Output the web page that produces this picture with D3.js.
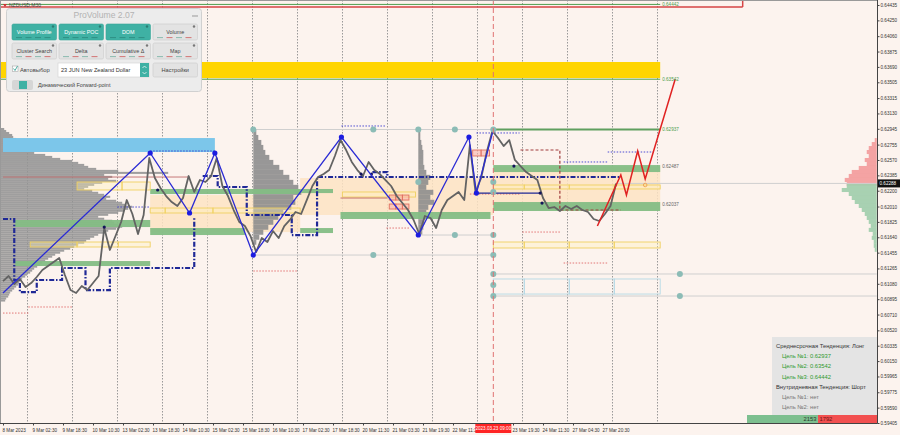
<!DOCTYPE html>
<html><head><meta charset="utf-8">
<script src="https://cdn.jsdelivr.net/npm/d3@7"></script>
<style>
html,body{margin:0;padding:0;background:#fcf3ee;}
svg{display:block;font-family:"Liberation Sans",Arial,sans-serif;}
</style></head><body>
<svg id="c" width="900" height="435"></svg>
<script>
// ---------------- DATA ----------------
const symbolLabel = "NZDUSD,M30";
const priceTicks = [0.64435,0.64250,0.64060,0.63875,0.63690,0.63505,0.63315,0.63130,0.62945,0.62755,0.62570,0.62385,0.62200,0.62010,0.61825,0.61640,0.61455,0.61265,0.61080,0.60895,0.60710,0.60520,0.60335,0.60150,0.59965,0.59775,0.59590,0.59405];
const timeLabels = ["8 Mar 2023","9 Mar 02:30","9 Mar 18:30","10 Mar 10:30","13 Mar 02:30","13 Mar 18:30","14 Mar 10:30","15 Mar 02:30","15 Mar 18:30","16 Mar 10:30","17 Mar 02:30","17 Mar 18:30","20 Mar 11:30","21 Mar 03:30","21 Mar 19:30","22 Mar 11:30","23 Mar 19:30","24 Mar 11:30","27 Mar 04:30","27 Mar 20:30"];
const timeLabelBars = [0,32,64,96,128,160,192,224,256,288,320,352,384,416,448,480,544,576,608,640];
const gridBars = [26,74,122,170,218,266,314,362,410,458,506,554,602,650,698];
const currentBar = 523;
const currentTimeLabel = "2023.03.23 09:00";
const currentPrice = 0.62288;

// close prices every 6 bars (M30)
const closeStep = 6;
const closes = [
 0.61113,0.61174,0.61077,0.61138,0.61041,0.61089,0.61162,0.61246,0.61294,0.61342,
 0.61390,0.61186,0.61005,0.60969,0.61053,0.61005,0.61089,0.61174,0.61751,0.61487,
 0.61655,0.61824,0.62088,0.61920,0.61679,0.61908,0.62594,0.62353,0.62233,0.62136,
 0.62064,0.62016,0.62112,0.62377,0.62185,0.62329,0.62305,0.62377,0.62594,0.62257,
 0.62136,0.61968,0.61824,0.61775,0.61655,0.61462,0.61631,0.61583,0.61715,0.61631,
 0.61775,0.61848,0.61944,0.61920,0.62088,0.62257,0.62365,0.62401,0.62449,0.62618,
 0.62810,0.62690,0.62546,0.62449,0.62377,0.62546,0.62449,0.62401,0.62329,0.62257,
 0.62136,0.62052,0.61968,0.61848,0.61679,0.61896,0.61872,0.61751,0.61968,0.62088,
 0.62136,0.62185,0.62088,0.62750,0.62185,0.62353,0.62666,0.62919,0.62834,0.62738,
 0.62810,0.62570,0.62497,0.62425,0.62377,0.62329,0.62112,0.61992,0.62004,0.61956,
 0.62016,0.61980,0.62016,0.61968,0.61944,0.61860,0.61836,0.61920,0.62016,0.62288];

const zigzagBars   = [0,157,199,226,267,361,443,497,505,523];
const zigzagPrices = [0.60969,0.62654,0.61932,0.62654,0.61426,0.62846,0.61667,0.62846,0.62172,0.62937];
const forecastBars   = [634,659,665,677,685,717];
const forecastPrices = [0.61775,0.62389,0.62148,0.62678,0.62341,0.63542];
const forecastMarker = [685,0.62269];

const targetLevels = [0.62937,0.63542,0.64442];
const zoneLevels = [0.62487,0.62037];
const topZoneLine = 0.64411, topZoneEndBar = 789;
const goldBand = [-3,701,0.63749,0.63556];
const skyBand = [0,226,0.62834,0.62666];

const orangeZones = [[523,701,0.62485,0.61968],[317,523,0.62353,0.61908],[157,317,0.62148,0.61703]];
const greenBands = [[523,701,0.62509,0.62425],[523,701,0.62064,0.61956],[13,157,0.61848,0.61763],[13,157,0.61354,0.61294],
 [157,317,0.62221,0.62160],[157,258,0.61751,0.61667],[360,520,0.61944,0.61860],[317,352,0.62221,0.62172],[317,352,0.61751,0.61691]];
const yellowBoxes = [
 {edges:[79,127,157],hi:0.62305,lo:0.62209},
 {edges:[29,79,123,157],hi:0.61583,lo:0.61523},
 {edges:[157,173,224,317],hi:0.61992,lo:0.61932},
 {edges:[362,440],hi:0.62185,lo:0.62124},
 {edges:[523,556,604,652,701],hi:0.62269,lo:0.62221},
 {edges:[523,556,604,652,701],hi:0.61583,lo:0.61511}];
const blueBoxes = [{edges:[523,556,604,652,701],hi:0.61138,lo:0.60957}];
const redBoxes = [
 {edges:[501,510,519],hi:0.62690,lo:0.62618},
 {edges:[412,419,426,433],hi:0.62148,lo:0.62088},
 {edges:[412,419,426,433],hi:0.62040,lo:0.61980}];

const redDotted = [[0,27,0.60728],[27,74,0.60801],[267,314,0.61234],[409,434,0.61751],[554,594,0.61703],[598,645,0.61330],[498,552,0.62160]];
const brownLines = [[0,199,0.62365],[360,410,0.62112]];
const brownStep = [[552,0.62690],[594,0.62690],[594,0.61968],[659,0.61968]];
const blueDotted = [[157,226,0.62678],[122,157,0.62004],[361,409,0.62979],[505,551,0.62895],[598,645,0.62546],[645,694,0.62666]];
const greyLines = [[267,523,0.62937],[267,523,0.61426],[443,523,0.61667],[523,932,0.61198],[523,932,0.60933],[655,932,0.62288]];

const navyPaths = [
 [[0,0.61860],[12,0.61860],[12,0.61126],[18,0.61126],[18,0.60981],[36,0.60981],[36,0.61126],[63,0.61126],[63,0.61270],[88,0.61270],[88,0.61005],[114,0.61005],[114,0.61270],[204,0.61270],[204,0.61884]],
 [[213,0.62377],[229,0.62377],[229,0.62245],[260,0.62245],[260,0.61908],[308,0.61908],[308,0.61667],[335,0.61667],[335,0.62365],[658,0.62365]],
 [[394,0.62425],[410,0.62425],[410,0.62365]]];
const navySolid = [[505,0.62172],[573,0.62172]];
const navyDots = [[108,0.61763],[165,0.62209],[382,0.62401],[393,0.62401],[545,0.62497],[573,0.62172],[575,0.62052]];
const tealDots = [[267,0.62937],[395,0.62937],[443,0.62937],[482,0.62937],[523,0.62937],[443,0.62305],[523,0.62305],[523,0.62185],
 [395,0.61426],[482,0.61667],[523,0.61667],[523,0.61426],[523,0.61198],[523,0.61065],[523,0.60933],[722,0.61198],[722,0.60933]];

// volume profiles (relative volume per price bin)
const profStep = 0.00024;
const leftProfileTop = 0.62955;
const leftProfile = [4,6,9,12,13,16,20,22,24,28, 30,31,34,45,52,60,72,78,84,88, 96,118,168,104,112,108,116,102,94,88,
 84,92,98,104,110,106,116,122,126,132, 128,124,118,108,98,104,112,114,118,122, 116,108,104,98,94,90,86,84,78,74,
 70,64,60,55,52,48,45,42,40,37, 34,32,30,27,25,22,20,19,18,16, 14,12,10,9,8,6,5];
const midProfileTop = 0.62931, midStep = 0.0006;
const midProfile = [3,5,8,10,12,16,20,26,30,36,40,45,48,40,42,38,30,25,20,15,10,6,3];
const smallProfile = [2,2,3,4,5,5,5,6,8,12,10,8,15,12,16,10,8,7,6,5,4];
const askProfileTop = 0.62834, bidProfileTop = 0.62281, sideStep = 0.00048;
const askProfile = [2,5,8,10,8,12,10,18,25,28,32,30];
const bidProfile = [30,35,28,25,22,18,15,12,10,8,6,8,4,5,3,3,2];

const panelButtons = ["Volume Profile","Dynamic POC","DOM","Volume","Cluster Search","Delta","Cumulative Δ","Map"];
const panelActive = [true,true,true,false,false,false,false,false];
const instrument = "23 JUN New Zealand Dollar";
const infoLines = [
 {t:"Среднесрочная Тенденция: Лонг",k:"head"},
 {t:"Цель №1: "+targetLevels[0].toFixed(5),k:"ok"},
 {t:"Цель №2: "+targetLevels[1].toFixed(5),k:"ok"},
 {t:"Цель №3: "+targetLevels[2].toFixed(5),k:"ok"},
 {t:"Внутридневная Тенденция: Шорт",k:"head"},
 {t:"Цель №1: нет",k:"no"},
 {t:"Цель №2: нет",k:"no"}];
const deltaValues = [2153,1792];

// ---------------- DRAW ----------------
const W=900,H=435,PR=877,PB=423;
const x=d3.scaleLinear().domain([0,932]).range([3,876.75]);
const y=d3.scaleLinear().domain([0.59405,0.64435]).range([423,5]);
const vol=d3.scaleLinear().domain([0,100]).range([0,100]);
const ln=d3.line().x(d=>x(d[0])).y(d=>y(d[1]));

const svg=d3.select("#c");
svg.append("rect").attr("width",W).attr("height",H).attr("fill","#fcf3ee");
svg.append("defs").append("clipPath").attr("id","clip").append("rect").attr("width",PR).attr("height",PB);
const g=svg.append("g").attr("clip-path","url(#clip)");

// grid
g.selectAll(".grid").data(gridBars).join("line")
 .attr("x1",d=>Math.round(x(d))+0.5).attr("x2",d=>Math.round(x(d))+0.5).attr("y1",0).attr("y2",PB)
 .attr("stroke","#8f8f8f").attr("stroke-width",0.9).attr("stroke-dasharray","1.5,1.5");

function rects(list,fill,op){
 g.append("g").selectAll("rect").data(list).join("rect")
  .attr("x",d=>x(d[0])).attr("width",d=>x(d[1])-x(d[0]))
  .attr("y",d=>y(d[2])).attr("height",d=>y(d[3])-y(d[2]))
  .attr("fill",fill).attr("opacity",op);
}
rects(orangeZones,"#fde3c3",0.85);

// profiles
function profile(vals,top,step,anchor,dir,color,op){
 g.append("g").selectAll("rect").data(vals).join("rect")
  .attr("x",d=>dir>0?x(anchor):x(anchor)-vol(d))
  .attr("width",d=>vol(d))
  .attr("y",(d,i)=>y(top-i*step))
  .attr("height",y(0)-y(step)+0.05)
  .attr("fill",color).attr("opacity",op);
}
profile(leftProfile,leftProfileTop,profStep,-3,1,"#959595",0.9);
profile(midProfile,midProfileTop,midStep,267,1,"#8d8d8d",0.9);
profile(smallProfile,midProfileTop,midStep,443,1,"#8d8d8d",0.9);
profile(askProfile,askProfileTop,sideStep,932,-1,"#f39a9a",0.9);
profile(bidProfile,bidProfileTop,sideStep,932,-1,"#a3cfae",0.95);

rects([skyBand],"#7cc6ea",1);
rects([goldBand],"#ffd500",1);
rects(greenBands,"#84bd84",0.95);

function boxes(list,stroke,fill){
 list.forEach(b=>{
  const segs=d3.pairs(b.edges);
  g.append("g").selectAll("rect").data(segs).join("rect")
   .attr("x",d=>x(d[0])).attr("width",d=>x(d[1])-x(d[0]))
   .attr("y",y(b.hi)).attr("height",y(b.lo)-y(b.hi))
   .attr("fill",fill).attr("stroke",stroke).attr("stroke-width",0.9);
 });
}
boxes(yellowBoxes,"#f0d060","rgba(255,240,180,0.35)");
boxes(blueBoxes,"#b5d9e6","none");
boxes(redBoxes,"#e07060","rgba(250,180,170,0.6)");

function hlines(list,stroke,dash,w){
 g.append("g").selectAll("line").data(list).join("line")
  .attr("x1",d=>x(d[0])).attr("x2",d=>x(d[1])).attr("y1",d=>y(d[2])).attr("y2",d=>y(d[2]))
  .attr("stroke",stroke).attr("stroke-width",w).attr("stroke-dasharray",dash);
}
hlines(greyLines,"#cfcfcf",null,1);
hlines(redDotted,"#e06868","1.5,1.5",0.9);
hlines(brownLines,"#c06a6a",null,0.9);
hlines(blueDotted,"#3a3ad0","1.5,1.5",0.9);
g.append("path").attr("d",ln(brownStep)).attr("fill","none").attr("stroke","#a03c3c").attr("stroke-width",1.2).attr("stroke-dasharray","3,2");

// top zone lines
hlines([[-3,topZoneEndBar,topZoneLine]],"#d64545",null,1.5);
g.append("line").attr("x1",x(topZoneEndBar)).attr("x2",x(topZoneEndBar)).attr("y1",0).attr("y2",y(topZoneLine)).attr("stroke","#d64545").attr("stroke-width",1.5);
hlines([[-3,701,targetLevels[2]],[-3,701,targetLevels[1]]],"#4e9e4e",null,1);
hlines([[523,701,targetLevels[0]]],"#5f9f5f",null,2);

// navy dash-dot steps
navyPaths.forEach(p=>g.append("path").attr("d",ln(p)).attr("fill","none").attr("stroke","#1f2896").attr("stroke-width",2.2).attr("stroke-dasharray","5,1.8,1.5,1.8"));
g.append("path").attr("d",ln(navySolid)).attr("fill","none").attr("stroke","#1f2896").attr("stroke-width",1.3);

// price line
g.append("path").attr("d",ln(closes.map((c,i)=>[i*closeStep,c]))).attr("fill","none")
 .attr("stroke","#636363").attr("stroke-width",1.8).attr("stroke-linejoin","round");

g.selectAll(".nd").data(navyDots).join("circle").attr("cx",d=>x(d[0])).attr("cy",d=>y(d[1])).attr("r",1.6).attr("fill","#14145a");

// zigzag
const zz=d3.zip(zigzagBars,zigzagPrices);
g.append("path").attr("d",ln(zz)).attr("fill","none").attr("stroke","#2b2bd4").attr("stroke-width",1.3);
g.selectAll(".zd").data(zz.slice(1,-1)).join("circle").attr("cx",d=>x(d[0])).attr("cy",d=>y(d[1])).attr("r",2.6).attr("fill","#1c1ce0");

// forecast
g.append("path").attr("d",ln(d3.zip(forecastBars,forecastPrices))).attr("fill","none").attr("stroke","#e02222").attr("stroke-width",1.5);
g.append("circle").attr("cx",x(forecastMarker[0])).attr("cy",y(forecastMarker[1])).attr("r",1.8).attr("fill","none").attr("stroke","#f0a050").attr("stroke-width",0.9);

// teal dots
g.selectAll(".td").data(tealDots).join("circle").attr("cx",d=>x(d[0])).attr("cy",d=>y(d[1])).attr("r",3).attr("fill","#8cbcb6");

// current time line
g.append("line").attr("x1",x(currentBar)).attr("x2",x(currentBar)).attr("y1",0).attr("y2",PB)
 .attr("stroke","#e07272").attr("stroke-width",1).attr("stroke-dasharray","5,3");

// level labels
const lvlLabels=[[targetLevels[2],"#4e9e4e"],[targetLevels[1],"#4e9e4e"],[targetLevels[0],"#4e9e4e"],[zoneLevels[0],"#666"],[zoneLevels[1],"#666"]];
g.selectAll(".ll").data(lvlLabels).join("text").attr("x",x(701)+2).attr("y",d=>y(d[0])+1.6)
 .attr("font-size",4.6).attr("fill",d=>d[1]).text(d=>d[0].toFixed(5));

// symbol
svg.append("path").attr("d","M3,4 L7,4 L5,7 Z").attr("fill","#c33");
svg.append("text").attr("x",9).attr("y",6.5).attr("font-size",5).attr("fill","#444").text(symbolLabel);

// ---------------- PRO VOLUME PANEL ----------------
const pv=svg.append("g");
pv.append("rect").attr("x",6.5).attr("y",8.5).attr("width",195).attr("height",83).attr("rx",3).attr("fill","#ececec").attr("stroke","#d0d0d0");
pv.append("text").attr("x",104).attr("y",17.5).attr("text-anchor","middle").attr("font-size",8.6).attr("fill","#b3b3b3").text("ProVolume 2.07");
pv.append("line").attr("x1",192).attr("x2",198).attr("y1",16).attr("y2",16).attr("stroke","#999").attr("stroke-width",1);
panelButtons.forEach((t,i)=>{
 const c=i%4,r=Math.floor(i/4),bx=12+c*47,by=24+r*19,on=panelActive[i];
 pv.append("rect").attr("x",bx).attr("y",by).attr("width",44.5).attr("height",16).attr("rx",1.5)
  .attr("fill",on?"#3fb1a4":"#e3e3e3").attr("stroke",on?"#3aa699":"#cbcbcb").attr("stroke-width",0.6);
 pv.append("text").attr("x",bx+22.25).attr("y",by+10).attr("text-anchor","middle").attr("font-size",5.4)
  .attr("fill",on?"#ffffff":"#444").text(t);
 pv.append("circle").attr("cx",bx+41).attr("cy",by+2.5).attr("r",1.2).attr("fill",on?"#2a7c73":"#777");
 [0,1,2,3].forEach(k=>pv.append("rect").attr("x",bx+4+k*9.5).attr("y",by+13.2).attr("width",6).attr("height",0.9)
  .attr("fill",on?"#2d8a80":(k%2?"#d06868":"#7fb5a8")));
});
pv.append("rect").attr("x",12.5).attr("y",66).attr("width",5.5).attr("height",5.5).attr("fill","#fff").attr("stroke","#999").attr("stroke-width",0.5);
pv.append("path").attr("d","M13.5,68.5 L15,70.5 L17.5,66").attr("fill","none").attr("stroke","#3aa699").attr("stroke-width",0.9);
pv.append("text").attr("x",20).attr("y",71.5).attr("font-size",5.8).attr("fill","#444").text("Автовыбор");
pv.append("rect").attr("x",58).attr("y",63).attr("width",91).attr("height",14).attr("fill","#fff").attr("stroke","#cfcfcf").attr("stroke-width",0.6);
pv.append("rect").attr("x",140).attr("y",63).attr("width",9).attr("height",14).attr("fill","#3fb1a4");
pv.append("path").attr("d","M142.5,68 L144.5,66 L146.5,68 M142.5,72 L144.5,74 L146.5,72").attr("fill","none").attr("stroke","#fff").attr("stroke-width",0.7);
pv.append("text").attr("x",61).attr("y",72).attr("font-size",5.6).attr("fill","#333").text(instrument);
pv.append("rect").attr("x",153).attr("y",63).attr("width",44.5).attr("height",14).attr("rx",1.5).attr("fill","#e3e3e3").attr("stroke","#cbcbcb").attr("stroke-width",0.6);
pv.append("text").attr("x",175.25).attr("y",72).attr("text-anchor","middle").attr("font-size",5.6).attr("fill","#444").text("Настройки");
pv.append("rect").attr("x",12).attr("y",80).attr("width",21).attr("height",10).attr("rx",2).attr("fill","#d6d6d6");
pv.append("rect").attr("x",19).attr("y",81).attr("width",8).attr("height",8).attr("fill","#3fb1a4");
pv.append("text").attr("x",38).attr("y",87.3).attr("font-size",5.5).attr("fill","#444").text("Динамический Forward-point");

// ---------------- INFO PANEL ----------------
const ip=svg.append("g");
ip.append("rect").attr("x",772).attr("y",337).attr("width",105).attr("height",78).attr("fill","#e4e4e4");
ip.selectAll("text").data(infoLines).join("text")
 .attr("x",d=>d.k==="head"?776:782).attr("y",(d,i)=>348+i*10.2)
 .attr("font-size",5.8).attr("fill",d=>d.k==="ok"?"#2f9a2f":(d.k==="no"?"#777":"#333")).text(d=>d.t);
const dx=d3.scaleLinear().domain([0,d3.sum(deltaValues)]).range([747,877]);
ip.append("rect").attr("x",dx(0)).attr("y",415).attr("width",dx(deltaValues[0])-dx(0)).attr("height",8).attr("fill","#7dbf8f");
ip.append("rect").attr("x",dx(deltaValues[0])).attr("y",415).attr("width",dx(d3.sum(deltaValues))-dx(deltaValues[0])).attr("height",8).attr("fill","#f25050");
ip.append("text").attr("x",dx(deltaValues[0])-1.5).attr("y",421.3).attr("text-anchor","end").attr("font-size",5.8).attr("fill","#2b3b2b").text(deltaValues[0]);
ip.append("text").attr("x",dx(deltaValues[0])+1.5).attr("y",421.3).attr("font-size",5.8).attr("fill","#6a1515").text(deltaValues[1]);

// ---------------- AXES ----------------
svg.append("line").attr("x1",PR+0.5).attr("x2",PR+0.5).attr("y1",0).attr("y2",PB+0.5).attr("stroke","#444").attr("stroke-width",1);
svg.append("line").attr("x1",0).attr("x2",PR+0.5).attr("y1",PB+0.5).attr("y2",PB+0.5).attr("stroke","#444").attr("stroke-width",1);
svg.append("line").attr("x1",0.5).attr("x2",0.5).attr("y1",0).attr("y2",PB).attr("stroke","#999");
svg.append("line").attr("x1",0).attr("x2",PR).attr("y1",0.5).attr("y2",0.5).attr("stroke","#999");

const yAxis=d3.axisRight(y).tickValues(priceTicks).tickSize(2).tickSizeOuter(0).tickPadding(1).tickFormat(d3.format(".5f"));
svg.append("g").attr("transform",`translate(${PR+0.5},0)`).call(yAxis).call(s=>{
 s.select(".domain").remove();
 s.selectAll("line").attr("stroke","#444");
 s.selectAll("text").attr("font-size",4.6).attr("fill","#333").attr("font-family","Liberation Sans, Arial");
});
const xAxis=d3.axisBottom(x).tickValues(timeLabelBars).tickSize(2).tickSizeOuter(0).tickFormat((d,i)=>timeLabels[i]);
svg.append("g").attr("transform",`translate(0,${PB+0.5})`).call(xAxis).call(s=>{
 s.select(".domain").remove();
 s.selectAll("line").attr("stroke","#444");
 s.selectAll("text").attr("font-size",4.6).attr("fill","#333").attr("text-anchor","start").attr("dx",-1).attr("font-family","Liberation Sans, Arial");
});

// current price tag
svg.append("rect").attr("x",PR+1).attr("y",y(currentPrice)-4).attr("width",23).attr("height",8).attr("fill","#111");
svg.append("text").attr("x",PR+2.5).attr("y",y(currentPrice)+1.7).attr("font-size",4.6).attr("fill","#fff").text(currentPrice.toFixed(5));
// current time tag
svg.append("rect").attr("x",x(currentBar)-18).attr("y",PB+1).attr("width",36).attr("height",9).attr("fill","#ff2424");
svg.append("text").attr("x",x(currentBar)).attr("y",PB+7.3).attr("text-anchor","middle").attr("font-size",4.6).attr("fill","#fff").text(currentTimeLabel);
</script></body></html>
